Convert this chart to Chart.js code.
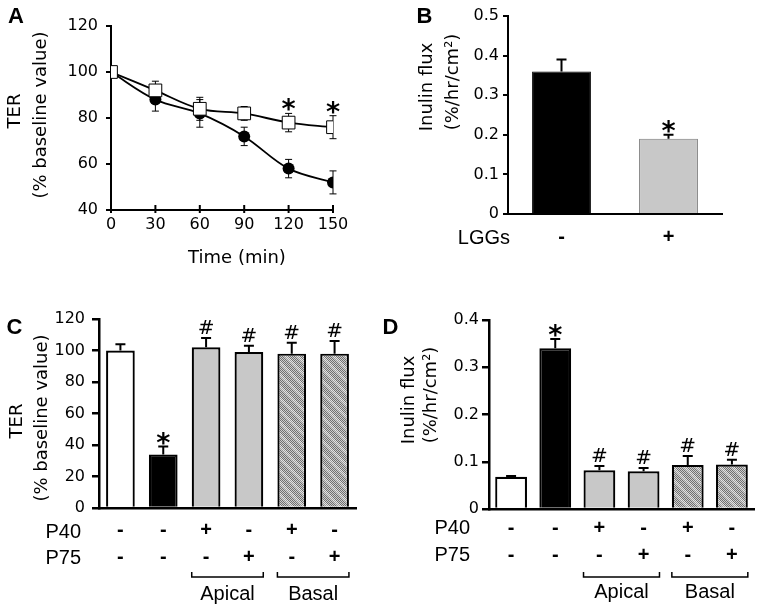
<!DOCTYPE html>
<html>
<head>
<meta charset="utf-8">
<title>TER and inulin flux</title>
<script src="https://cdn.jsdelivr.net/npm/chart.js@4.4.1/dist/chart.umd.min.js"></script>
<style>
  html, body { margin: 0; padding: 0; background: #fff; }
  #wrap { position: relative; width: 760px; height: 611px; }
  #wrap canvas { position: absolute; left: 0; top: 0; }
</style>
</head>
<body>
<div id="wrap">
  <canvas id="chartA" width="760" height="611"></canvas>
  <canvas id="chartB" width="760" height="611"></canvas>
  <canvas id="chartC" width="760" height="611"></canvas>
  <canvas id="chartD" width="760" height="611"></canvas>
</div>
<script>
// values
const times = [0, 30, 60, 90, 120, 150];
const terCtrl = [100, 88, 82, 72, 58, 52];      // filled circles
const terCtrlErr = [0, 5, 6, 4, 4, 5];
const terLgg = [100, 92, 84, 82, 78, 76];       // open squares
const terLggErr = [0, 4, 5, 3, 4, 5];
const marksA = ['', '', '', '', '*', '*'];

const lggs = ['-', '+'];
const fluxB = [0.36, 0.19];
const fluxBErr = [0.03, 0.01];
const marksB = ['', '*'];

const p40 = ['-', '-', '+', '-', '+', '-'];
const p75 = ['-', '-', '-', '+', '-', '+'];
const terC = [100, 34, 102, 99, 98, 98];
const terCErr = [4, 5, 6, 4, 7, 8];
const marksC = ['', '*', '#', '#', '#', '#'];

const fluxD = [0.068, 0.34, 0.082, 0.080, 0.093, 0.094];
const fluxDErr = [0.002, 0.02, 0.009, 0.007, 0.019, 0.010];
const marksD = ['', '*', '#', '#', '#', '#'];

const groups = [['Apical', 2, 3], ['Basal', 4, 5]];

const SANS = '"DejaVu Sans", Verdana, sans-serif';
const ARIAL = '"Liberation Sans", Arial, sans-serif';

Chart.defaults.font.family = SANS;
Chart.defaults.font.size = 16;
Chart.defaults.color = '#000';
Chart.defaults.animation = false;
Chart.defaults.responsive = false;
Chart.defaults.events = [];
Chart.defaults.plugins.legend.display = false;
Chart.defaults.plugins.tooltip.enabled = false;

// grey dithered fill with light diagonal bands
function hatch() {
  const c = document.createElement('canvas');
  c.width = c.height = 12;
  const g = c.getContext('2d');
  for (let y = 0; y < 12; y++) {
    for (let x = 0; x < 12; x++) {
      const band = ((x - y + 24) % 12) < 4;
      const dark = (x + y) % 2 === 0;
      g.fillStyle = dark ? (band ? '#9a9a9a' : '#707070') : (band ? '#e4e4e4' : '#cdcdcd');
      g.fillRect(x, y, 1, 1);
    }
  }
  return g.createPattern(c, 'repeat');
}
const HATCH = hatch();

function text(ctx, s, x, y, o = {}) {
  ctx.save();
  ctx.font = o.font || '18px ' + SANS;
  ctx.fillStyle = '#000';
  ctx.textAlign = o.align || 'center';
  ctx.textBaseline = o.base || 'middle';
  ctx.translate(x, y);
  if (o.rot) ctx.rotate(-Math.PI / 2);
  ctx.fillText(s, 0, 0);
  ctx.restore();
}

// error bars (+ significance marks) stored on the datasets
function drawErrors(chart, behind) {
  const ctx = chart.ctx;
  const ys = chart.scales.y;
  chart.data.datasets.forEach((ds, di) => {
    if (!ds.err || !!ds.errBehind !== behind) return;
    const meta = chart.getDatasetMeta(di);
    ctx.save();
    ctx.strokeStyle = '#000';
    ctx.lineWidth = ds.errWidth || 2;
    const cap = ds.errCap || 5;
    meta.data.forEach((el, i) => {
      const v = ds.vals[i], e = ds.err[i];
      const top = ys.getPixelForValue(v + e);
      const bot = ds.errBoth ? ys.getPixelForValue(v - e) : el.y;
      if (e) {
        ctx.beginPath();
        ctx.moveTo(el.x, top); ctx.lineTo(el.x, bot);
        ctx.moveTo(el.x - cap, top); ctx.lineTo(el.x + cap, top);
        if (ds.errBoth) { ctx.moveTo(el.x - cap, bot); ctx.lineTo(el.x + cap, bot); }
        ctx.stroke();
      }
      const m = ds.marks && ds.marks[i];
      if (m === '*') text(ctx, '*', el.x, top + 5, { font: 'bold 27px ' + SANS, base: 'alphabetic' });
      if (m === '#') text(ctx, '#', el.x, top - 4, { font: '20px ' + SANS, base: 'alphabetic' });
    });
    ctx.restore();
  });
}
const errPlugin = {
  id: 'errBars',
  beforeDatasetsDraw(chart) { drawErrors(chart, true); },
  afterDatasetsDraw(chart) { drawErrors(chart, false); }
};

function yAxis(min, max, step, width, tickLen, pad, lw) {
  return {
    min: min, max: max,
    ticks: { stepSize: step, padding: pad, color: '#000', font: { size: 16 } },
    grid: { display: true, drawOnChartArea: false, drawTicks: true, tickLength: tickLen, color: '#000', lineWidth: lw },
    border: { display: true, color: '#000', width: lw },
    afterFit: s => { s.width = width; }
  };
}
function xCat(height, pad, lineH, lw) {
  return {
    type: 'category',
    offset: true,
    ticks: { padding: pad, color: '#000', font: { family: ARIAL, size: 20, weight: 'bold', lineHeight: lineH } },
    grid: { display: false, drawTicks: false },
    border: { display: true, color: '#000', width: lw },
    afterFit: s => { s.height = height; }
  };
}

function drawGroups(chart, lineY, textY) {
  const ctx = chart.ctx;
  const meta = chart.getDatasetMeta(0);
  ctx.save();
  ctx.strokeStyle = '#000';
  ctx.lineWidth = 1.5;
  groups.forEach(([name, a, b]) => {
    const ea = meta.data[a], eb = meta.data[b];
    const x1 = ea.x - ea.width / 2, x2 = eb.x + eb.width / 2;
    ctx.beginPath();
    ctx.moveTo(x1, lineY - 5); ctx.lineTo(x1, lineY); ctx.lineTo(x2, lineY); ctx.lineTo(x2, lineY - 5);
    ctx.stroke();
    text(ctx, name, (x1 + x2) / 2, textY, { font: '20px ' + ARIAL, base: 'alphabetic' });
  });
  ctx.restore();
}

// ---------- A: TER time course ----------
new Chart(document.getElementById('chartA'), {
  type: 'line',
  data: {
    datasets: [{
      data: times.map((t, i) => ({ x: t, y: terLgg[i] })),
      vals: terLgg, err: terLggErr, marks: marksA, errBoth: true, errBehind: true, errWidth: 1, errCap: 3.5,
      borderColor: '#000', borderWidth: 1.8, tension: 0.35,
      pointStyle: 'rect', pointRadius: 9, pointBackgroundColor: '#fff', pointBorderColor: '#000', pointBorderWidth: 1
    }, {
      data: times.map((t, i) => ({ x: t, y: terCtrl[i] })),
      vals: terCtrl, err: terCtrlErr, errBoth: true, errBehind: true, errWidth: 1, errCap: 3.5,
      borderColor: '#000', borderWidth: 1.8, tension: 0.35,
      pointStyle: 'circle', pointRadius: 6, pointBackgroundColor: '#000', pointBorderColor: '#000', pointBorderWidth: 0
    }]
  },
  options: {
    layout: { padding: { left: 0, top: 26, right: 427, bottom: 311 } },
    scales: {
      x: {
        type: 'linear', min: 0, max: 150,
        ticks: { stepSize: 30, padding: 5, color: '#000', font: { size: 16 } },
        grid: { display: false, drawTicks: false },
        border: { display: true, color: '#000', width: 2 },
        afterFit: s => { s.height = 90; }
      },
      y: yAxis(40, 120, 20, 111, 5, 8, 2)
    }
  },
  plugins: [errPlugin, {
    id: 'panelA',
    afterDraw(chart) {
      const ctx = chart.ctx, xs = chart.scales.x, b = chart.chartArea.bottom;
      ctx.save();
      ctx.strokeStyle = '#000';
      ctx.lineWidth = 2;
      xs.ticks.forEach(t => {
        const px = xs.getPixelForValue(t.value);
        ctx.beginPath(); ctx.moveTo(px, b - 5); ctx.lineTo(px, b + 3); ctx.stroke();
      });
      ctx.restore();
      text(ctx, 'A', 16, 17, { font: 'bold 22px ' + ARIAL });
      text(ctx, 'TER', 15, 111, { rot: true });
      text(ctx, '(% baseline value)', 41.5, 115, { rot: true });
      text(ctx, 'Time (min)', 237, 258);
    }
  }]
});

// ---------- B: inulin flux, LGGs ----------
new Chart(document.getElementById('chartB'), {
  type: 'bar',
  data: {
    labels: lggs,
    datasets: [{
      data: fluxB, vals: fluxB, err: fluxBErr, marks: marksB, errWidth: 2, errCap: 5,
      backgroundColor: ['#000', '#c8c8c8'],
      borderColor: ['#000', '#7a7a7a'],
      borderWidth: 1,
      categoryPercentage: 1, barPercentage: 0.55
    }]
  },
  options: {
    layout: { padding: { left: 380, top: 16, right: 38, bottom: 311 } },
    scales: {
      x: xCat(86, 12, 1.1, 2),
      y: yAxis(0, 0.5, 0.1, 128, 5, 4, 2)
    }
  },
  plugins: [errPlugin, {
    id: 'panelB',
    afterDraw(chart) {
      const ctx = chart.ctx;
      text(ctx, 'B', 424.5, 17, { font: 'bold 22px ' + ARIAL });
      text(ctx, 'Inulin flux', 427, 87, { rot: true });
      text(ctx, '(%/hr/cm²)', 453, 82, { rot: true });
      text(ctx, 'LGGs', 510, 244, { font: '20px ' + ARIAL, align: 'right', base: 'alphabetic' });
    }
  }]
});

// ---------- C: TER with P40 / P75 ----------
const barFill = ['#fff', '#000', '#c8c8c8', '#c8c8c8', HATCH, HATCH];

new Chart(document.getElementById('chartC'), {
  type: 'bar',
  data: {
    labels: p40.map((a, i) => [a, p75[i]]),
    datasets: [{
      data: terC, vals: terC, err: terCErr, marks: marksC, errWidth: 2, errCap: 5,
      backgroundColor: barFill, borderColor: '#000', borderWidth: 2.2,
      categoryPercentage: 1, barPercentage: 0.67
    }]
  },
  options: {
    layout: { padding: { left: 0, top: 319, right: 404, bottom: 0 } },
    scales: {
      x: xCat(103, 8.5, 1.35, 2.5),
      y: yAxis(0, 120, 20, 99, 7, 7, 2.5)
    }
  },
  plugins: [errPlugin, {
    id: 'panelC',
    afterDraw(chart) {
      const ctx = chart.ctx;
      text(ctx, 'C', 14.5, 328, { font: 'bold 22px ' + ARIAL });
      text(ctx, 'TER', 17.5, 421, { rot: true });
      text(ctx, '(% baseline value)', 42, 418, { rot: true });
      text(ctx, 'P40', 81, 538, { font: '20px ' + ARIAL, align: 'right', base: 'alphabetic' });
      text(ctx, 'P75', 81, 564, { font: '20px ' + ARIAL, align: 'right', base: 'alphabetic' });
      drawGroups(chart, 577, 600);
    }
  }]
});

// ---------- D: inulin flux with P40 / P75 ----------
new Chart(document.getElementById('chartD'), {
  type: 'bar',
  data: {
    labels: p40.map((a, i) => [a, p75[i]]),
    datasets: [{
      data: fluxD, vals: fluxD, err: fluxDErr, marks: marksD, errWidth: 2, errCap: 5,
      backgroundColor: barFill, borderColor: '#000', borderWidth: 2.2,
      categoryPercentage: 1, barPercentage: 0.72
    }]
  },
  options: {
    layout: { padding: { left: 380, top: 320, right: 6, bottom: 0 } },
    scales: {
      x: xCat(102, 6, 1.35, 2.5),
      y: yAxis(0, 0.4, 0.1, 109, 7, 3, 2.5)
    }
  },
  plugins: [errPlugin, {
    id: 'panelD',
    afterDraw(chart) {
      const ctx = chart.ctx;
      text(ctx, 'D', 390.5, 328, { font: 'bold 22px ' + ARIAL });
      text(ctx, 'Inulin flux', 409.5, 400, { rot: true });
      text(ctx, '(%/hr/cm²)', 431, 395, { rot: true });
      text(ctx, 'P40', 470, 534, { font: '20px ' + ARIAL, align: 'right', base: 'alphabetic' });
      text(ctx, 'P75', 470, 561, { font: '20px ' + ARIAL, align: 'right', base: 'alphabetic' });
      drawGroups(chart, 577, 598);
    }
  }]
});
</script>
</body>
</html>
